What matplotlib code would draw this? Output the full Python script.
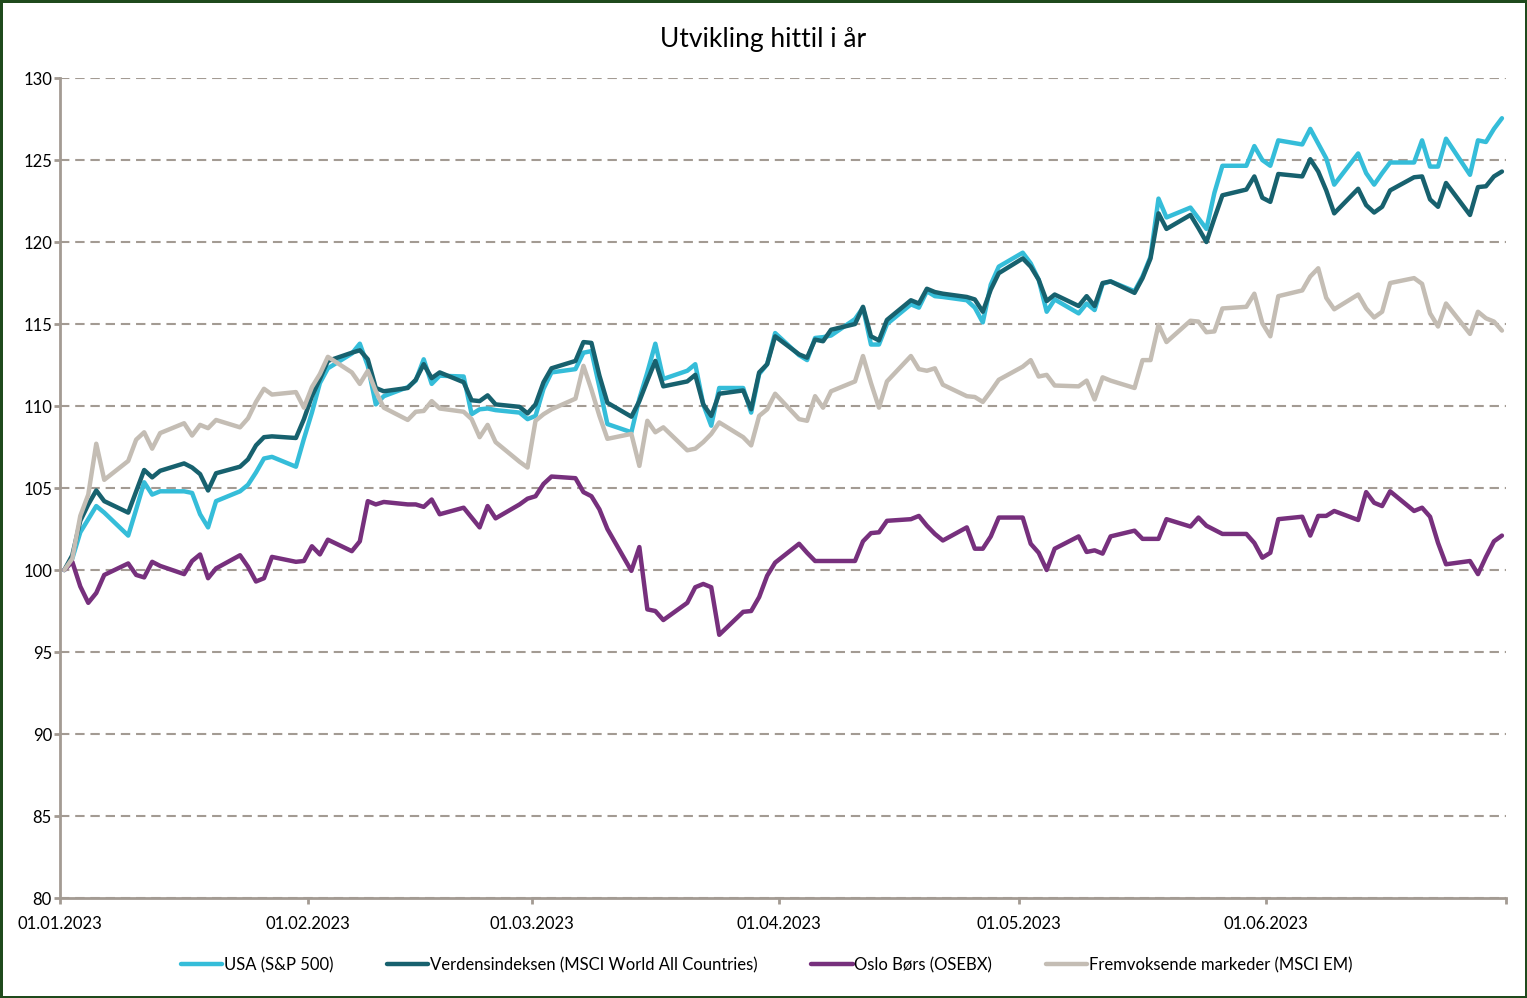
import numpy as np
import pandas as pd
import matplotlib
matplotlib.use("Agg")
import matplotlib.pyplot as plt

plt.rcParams["font.family"] = ["Lato", "DejaVu Sans"]

# trading days (plus the year start at 100)
dates = pd.DatetimeIndex(["2023-01-01"]).append(pd.bdate_range("2023-01-02", "2023-06-30"))

usa = [
    100.0, 100.7, 102.3, 103.1, 103.9, 103.5, 102.1, 103.7, 105.35, 104.6, 104.8, 104.8, 104.7, 103.4, 102.6, 104.2, 104.8, 105.2, 105.95, 106.8, 106.9, 106.3, 108.0,
    109.6, 111.4, 112.3, 113.2, 113.8, 112.45, 110.1, 110.6, 111.15, 111.55, 112.85, 111.35, 111.85, 111.8, 109.5, 109.8, 109.85, 109.75, 109.6, 109.2,
    109.4, 111.05, 112.05, 112.25, 113.25, 113.35, 111.15, 108.9, 108.4, 110.45, 112.05, 113.8, 111.65, 112.15, 112.55, 110.1, 108.8, 111.1, 111.1, 109.6, 111.95, 112.55, 114.45,
    113.1, 112.8, 114.15, 114.2, 114.3, 115.3, 116.0, 113.75, 113.75, 115.0, 116.2, 116.0, 117.0, 116.7, 116.65, 116.45, 116.0, 115.1, 117.4, 118.5,
    119.35, 118.7, 117.7, 115.75, 116.5, 115.65, 116.25, 115.85, 117.45, 117.6, 117.0, 117.9, 119.1, 122.65, 121.5, 122.1, 121.45, 120.8, 123.0, 124.65, 124.65, 125.85, 125.0,
    124.65, 126.2, 125.95, 126.9, 126.0, 125.1, 123.5, 125.4, 124.2, 123.5, 124.2, 124.85, 124.85, 126.2, 124.6, 124.6, 126.3, 124.1, 126.2, 126.1, 126.9, 127.55,
]
verden = [
    100.0, 100.9, 103.0, 104.0, 104.85, 104.2, 103.5, 104.8, 106.1, 105.65, 106.05, 106.5, 106.25, 105.85, 104.85, 105.9, 106.3, 106.75, 107.6, 108.1, 108.15, 108.05, 109.2,
    110.6, 111.65, 112.75, 113.25, 113.4, 112.85, 111.1, 110.9, 111.1, 111.6, 112.55, 111.7, 112.05, 111.45, 110.35, 110.3, 110.65, 110.1, 109.95, 109.55,
    110.1, 111.45, 112.3, 112.75, 113.9, 113.85, 111.85, 110.2, 109.35, 110.3, 111.55, 112.75, 111.2, 111.5, 111.9, 110.1, 109.4, 110.75, 110.95, 109.8, 112.05, 112.55, 114.25,
    113.15, 112.95, 114.05, 113.95, 114.65, 115.0, 116.05, 114.25, 114.0, 115.25, 116.45, 116.25, 117.15, 116.95, 116.85, 116.65, 116.5, 115.75, 117.1, 118.1,
    119.0, 118.5, 117.7, 116.4, 116.8, 116.1, 116.7, 116.1, 117.5, 117.6, 116.9, 117.8, 119.0, 121.75, 120.8, 121.65, 120.85, 120.0, 121.45, 122.85, 123.2, 124.0, 122.7,
    122.45, 124.15, 124.0, 125.05, 124.3, 123.15, 121.75, 123.25, 122.25, 121.8, 122.15, 123.15, 123.95, 124.0, 122.6, 122.15, 123.6, 121.65, 123.35, 123.4, 124.0, 124.3,
]
oslo = [
    100.0, 100.5, 99.0, 98.0, 98.6, 99.7, 100.4, 99.7, 99.55, 100.5, 100.25, 99.75, 100.55, 100.95, 99.5, 100.1, 100.9, 100.2, 99.3, 99.5, 100.8, 100.5, 100.55,
    101.45, 100.95, 101.85, 101.15, 101.75, 104.2, 104.0, 104.15, 104.0, 104.0, 103.85, 104.3, 103.4, 103.8, 103.2, 102.6, 103.9, 103.15, 104.0, 104.35,
    104.5, 105.25, 105.7, 105.6, 104.75, 104.5, 103.7, 102.5, 99.95, 101.4, 97.6, 97.5, 96.95, 98.0, 98.95, 99.15, 98.95, 96.05, 97.45, 97.5, 98.35, 99.65, 100.45,
    101.6, 101.05, 100.55, 100.55, 100.55, 100.55, 101.75, 102.25, 102.3, 103.0, 103.1, 103.3, 102.7, 102.2, 101.8, 102.6, 101.3, 101.3, 102.05, 103.2,
    103.2, 101.6, 101.05, 100.0, 101.3, 102.05, 101.1, 101.2, 101.0, 102.05, 102.4, 101.9, 101.9, 101.9, 103.1, 102.65, 103.2, 102.7, 102.45, 102.2, 102.2, 101.65, 100.75,
    101.05, 103.1, 103.25, 102.1, 103.3, 103.3, 103.6, 103.05, 104.75, 104.1, 103.9, 104.8, 103.6, 103.8, 103.25, 101.65, 100.35, 100.55, 99.75, 100.8, 101.75, 102.1,
]
em = [
    100.0, 100.7, 103.3, 104.6, 107.7, 105.5, 106.65, 107.95, 108.4, 107.4, 108.35, 108.95, 108.2, 108.85, 108.65, 109.15, 108.7, 109.25, 110.25, 111.05, 110.7, 110.85, 109.9,
    111.15, 111.95, 113.0, 112.05, 111.35, 112.15, 110.9, 109.9, 109.15, 109.65, 109.7, 110.3, 109.85, 109.65, 109.2, 108.1, 108.85, 107.8, 106.6, 106.25,
    109.1, 109.5, 109.8, 110.45, 112.45, 111.0, 109.4, 108.0, 108.3, 106.35, 109.1, 108.4, 108.7, 107.3, 107.4, 107.8, 108.3, 109.0, 108.1, 107.6, 109.4, 109.8, 110.75,
    109.2, 109.1, 110.6, 109.9, 110.9, 111.5, 113.05, 111.4, 109.9, 111.5, 113.05, 112.25, 112.15, 112.3, 111.3, 110.6, 110.55, 110.25, 110.9, 111.6,
    112.4, 112.8, 111.8, 111.9, 111.25, 111.2, 111.55, 110.4, 111.75, 111.55, 111.1, 112.8, 112.8, 114.95, 113.9, 115.2, 115.15, 114.5, 114.55, 115.95, 116.05, 116.85, 115.05,
    114.25, 116.7, 117.05, 117.9, 118.4, 116.6, 115.9, 116.8, 115.95, 115.4, 115.75, 117.5, 117.8, 117.45, 115.65, 114.85, 116.25, 114.4, 115.75, 115.35, 115.15, 114.6,
]

labels = ["USA (S&P 500)", "Verdensindeksen (MSCI World All Countries)",
          "Oslo Børs (OSEBX)", "Fremvoksende markeder (MSCI EM)"]
colors = ["#35BDD9", "#17616E", "#77307D", "#C4BDB4"]
tick_dates = pd.date_range("2023-01-01", "2023-07-01", freq="MS")
tick_labels = ["01.01.2023", "01.02.2023", "01.03.2023", "01.04.2023", "01.05.2023", "01.06.2023", ""]

for s in (usa, verden, oslo, em):
    assert len(s) == len(dates), len(s)

x = dates + pd.Timedelta(hours=12)   # points sit mid-day on the date axis

fig = plt.figure(figsize=(15.27, 9.98), dpi=100, edgecolor="#1F4A1C", linewidth=2.5)
ax = fig.add_axes([0.0395, 0.1002, 0.9467, 0.8216])

for s, c, lab in zip((usa, verden, oslo, em), colors, labels):
    ax.plot(x, s, color=c, lw=3.2, label=lab, solid_joinstyle="round", solid_capstyle="round")

ax.set_xlim(pd.Timestamp("2023-01-01"), pd.Timestamp("2023-07-01"))
ax.set_ylim(80, 130)
ax.set_yticks(np.arange(80, 131, 5))
ax.set_xticks(tick_dates)
ax.set_xticklabels(tick_labels)

grid_c = "#A39B93"
ax.yaxis.grid(True, color=grid_c, lw=1.5, linestyle=(0, (4.5, 2.8)))
ax.set_axisbelow(True)
for side in ("top", "right"):
    ax.spines[side].set_visible(False)
for side in ("left", "bottom"):
    ax.spines[side].set_color(grid_c)
    ax.spines[side].set_linewidth(2)
ax.tick_params(axis="both", colors=grid_c, width=2, length=4, labelcolor="black", labelsize=12)
ax.tick_params(axis="y", pad=2)
ax.tick_params(axis="x", pad=9)

fig.suptitle("Utvikling hittil i år", x=0.5, y=0.973, fontsize=19)
ax.legend(loc="center", bbox_to_anchor=(0.502, 0.033), bbox_transform=fig.transFigure,
          ncol=4, frameon=False, fontsize=12, handlelength=2.5, handletextpad=0.1,
          columnspacing=3.2)

fig.savefig("out.png", dpi=100, edgecolor=fig.get_edgecolor())
